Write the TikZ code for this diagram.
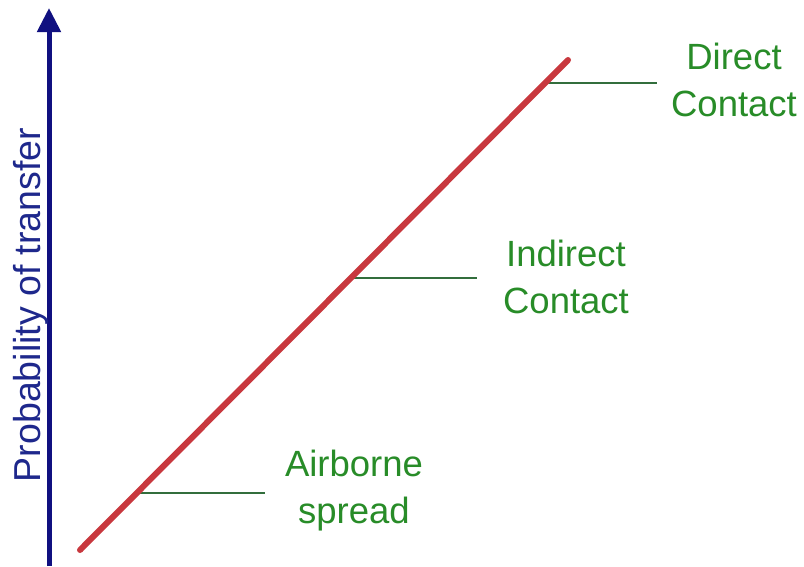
\documentclass[tikz,border=0pt]{standalone}
\usepackage{fontspec}
\setmainfont{Liberation Sans}
\usetikzlibrary{arrows.meta}
\definecolor{axisblue}{RGB}{16,16,128}
\definecolor{labelblue}{RGB}{30,40,140}
\definecolor{trendred}{RGB}{200,56,62}
\definecolor{textgreen}{RGB}{40,140,40}
\definecolor{leadgreen}{RGB}{50,110,60}
\begin{document}
\begin{tikzpicture}[x=1pt,y=-1pt,
  lbl/.style={text=textgreen, align=center, inner sep=0pt, anchor=base,
    font=\fontsize{36.5}{47}\selectfont},
  leader/.style={draw=leadgreen, line width=1.4pt},
  trend/.style={draw=trendred, line width=6pt, line cap=round},
  axis/.style={draw=axisblue, line width=5pt, -{Triangle[length=24pt,width=23pt]}}]
\useasboundingbox (0,0) rectangle (804,566);
% axis
\coordinate (ax0) at (49,566);
\coordinate (ax1) at (49,8);
\draw[axis] (ax0) -- (ax1);
\node[text=labelblue, rotate=90, anchor=base, inner sep=0pt,
  font=\fontsize{37.5}{43}\selectfont] (ylab) at (40,305) {Probability of transfer};
% leaders
\coordinate (pa) at (137,493);
\coordinate (ea) at (265,493);
\coordinate (pi) at (351,278);
\coordinate (ei) at (477,278);
\coordinate (pd) at (545,83);
\coordinate (ed) at (657,83);
\draw[leader] (pa) -- (ea);
\draw[leader] (pi) -- (ei);
\draw[leader] (pd) -- (ed);
% trend line
\coordinate (r0) at (80,550);
\coordinate (r1) at (568,60);
\draw[trend] (r0) -- (r1);
% labels (anchor base = baseline of the last line)
\node[lbl] (direct) at (734,116) {Direct\\Contact};
\node[lbl] (indirect) at (566,313) {Indirect\\Contact};
\node[lbl] (airborne) at (354,523) {Airborne\\spread};
\end{tikzpicture}
\end{document}
